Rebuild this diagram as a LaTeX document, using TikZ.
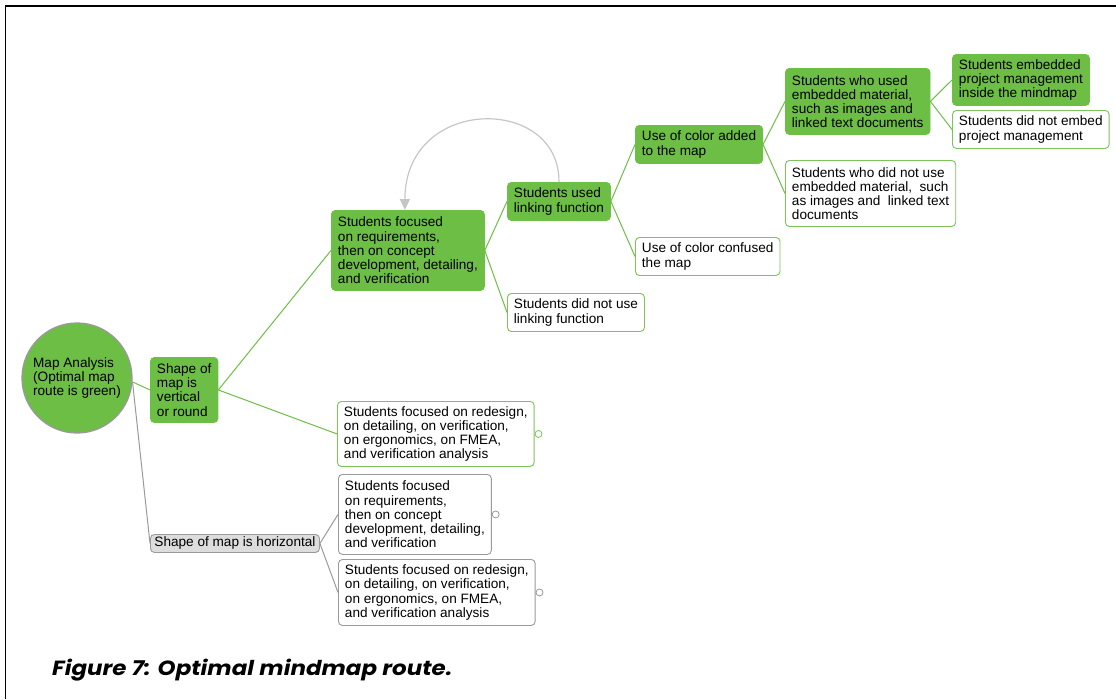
\documentclass[tikz,border=0pt]{standalone}
\usepackage{fontspec}
\setmainfont{Liberation Sans}
\newfontfamily\capfont[FakeStretch=1.12]{Poppins}
\usetikzlibrary{arrows.meta}
\usetikzlibrary{positioning}
\definecolor{mapgreen}{HTML}{6DBE45}
\definecolor{mapedge}{HTML}{7CC35A}
\definecolor{mapgray}{HTML}{9A9A9A}
\definecolor{maplight}{HTML}{DDDDDD}

\begin{document}
\begin{tikzpicture}[x=1pt,y=-1pt,font=\fontsize{13.6}{14.2}\selectfont]
            % Define styles - boxes of the mindmap
            \tikzstyle{topic} = [anchor=north west,rounded corners=4pt,inner xsep=6.5pt,inner ysep=2pt,align=left,line width=.9pt]
            \tikzstyle{greenbox} = [topic,fill=mapgreen,draw=mapgreen]
            \tikzstyle{whitebox} = [topic,fill=white,draw=mapedge]
            \tikzstyle{graybox} = [topic,fill=white,draw=mapgray]
            \tikzstyle{knob} = [circle,draw,fill=white,inner sep=0pt,minimum size=7pt,line width=.8pt]
            \tikzstyle{greenline} = [draw=mapgreen,line width=1pt]
            \tikzstyle{grayline} = [draw=mapgray,line width=1pt]
            \useasboundingbox (0,0) rectangle (1116,699);
            % Frame of the figure
                \draw[line width=1.4pt] (5,6) -- (1116,6);
                \draw[line width=1pt] (5,6) -- (5,699);
            % Root of the map
                \node (root) at (77,378) [circle,fill=mapgreen,draw=mapgray,line width=1.3pt,minimum size=110pt,inner sep=0pt,align=left]{Map Analysis\\(Optimal map\\route is green)};
            % Vertical branch
            	% First level
            	\node (vert) at (150,357) [greenbox,minimum height=65pt]{Shape of\\map is\\vertical\\or round};
            	\node (req) at (331,210) [greenbox,minimum height=80pt]{Students focused\\on requirements,\\then on concept\\development, detailing,\\and verification};
            	\node (redV) at (337,401) [whitebox,minimum height=65pt]{Students focused on redesign,\\on detailing, on verification,\\on ergonomics, on FMEA,\\and verification analysis};
            	\node (redVknob) [knob,draw=mapedge,right=0pt of redV.east] {};
            	% Linking function
            	\node (link) at (507,182) [greenbox,minimum height=38pt]{Students used\\linking function};
            	\node (nolink) at (507,293) [whitebox,minimum height=38pt]{Students did not use\\linking function};
            	% Use of color
            	\node (coloradd) at (635,125) [greenbox,minimum height=38pt]{Use of color added\\to the map};
            	\node (colorconf) at (635,237) [whitebox,minimum height=38pt]{Use of color confused\\the map};
            	% Embedded material
            	\node (embed) at (785,68) [greenbox,minimum height=66pt]{Students who used\\embedded material,\\such as images and\\linked text documents};
            	\node (noembed) at (785,160) [whitebox,minimum height=66pt]{Students who did not use\\embedded material,~ such\\as images and~ linked text\\documents};
            	% Project management
            	\node (pm) at (952,54) [greenbox,minimum height=51pt]{Students embedded\\project management\\inside the mindmap};
            	\node (nopm) at (952,110) [whitebox,minimum height=38pt]{Students did not embed\\project management};
            % Horizontal branch
            	\node (horiz) at (150,534) [topic,fill=maplight,draw=mapgray,minimum height=18pt,inner ysep=0pt,inner xsep=4pt]{Shape of map is horizontal};
            	\node (reqH) at (338,474) [graybox,minimum height=80pt]{Students focused\\on requirements,\\then on concept\\development, detailing,\\and verification};
            	\node (reqHknob) [knob,draw=mapgray,right=0pt of reqH.east] {};
            	\node (redH) at (338,559) [graybox,minimum height=66pt]{Students focused on redesign,\\on detailing, on verification,\\on ergonomics, on FMEA,\\and verification analysis};
            	\node (redHknob) [knob,draw=mapgray,right=0pt of redH.east] {};
            % Caption
                \node (caption) at (52,675) [anchor=base west,inner sep=0pt,font=\capfont\fontsize{20.5}{24}\selectfont\bfseries\itshape]{Figure 7: Optimal mindmap route.};
            % Lines of the optimal (green) route
                \draw[greenline] (root.-4) -- (vert.west);
                \draw[greenline] (vert.east) -- (req.west);
                \draw[greenline] (vert.east) -- (redV.west);
                \draw[greenline] (req.east) -- (link.west);
                \draw[greenline] (req.east) -- (nolink.west);
                \draw[greenline] (link.east) -- (coloradd.west);
                \draw[greenline] (link.east) -- (colorconf.west);
                \draw[greenline] (coloradd.east) -- (embed.west);
                \draw[greenline] (coloradd.east) -- (noembed.west);
                \draw[greenline] (embed.east) -- (pm.west);
                \draw[greenline] (embed.east) -- (nopm.west);
            % Lines of the horizontal branch
                \draw[grayline] (root.-4) -- (horiz.west);
                \draw[grayline] (horiz.east) -- (reqH.west);
                \draw[grayline] (horiz.east) -- (redH.west);
            % Link back from linking function to requirements
                \draw[draw=gray!45,line width=1.2pt,-{Triangle[width=10pt,length=11pt]}] (link.north) .. controls (560,95) and (405,95) .. ([xshift=-3pt]req.north);
\end{tikzpicture}
\end{document}
